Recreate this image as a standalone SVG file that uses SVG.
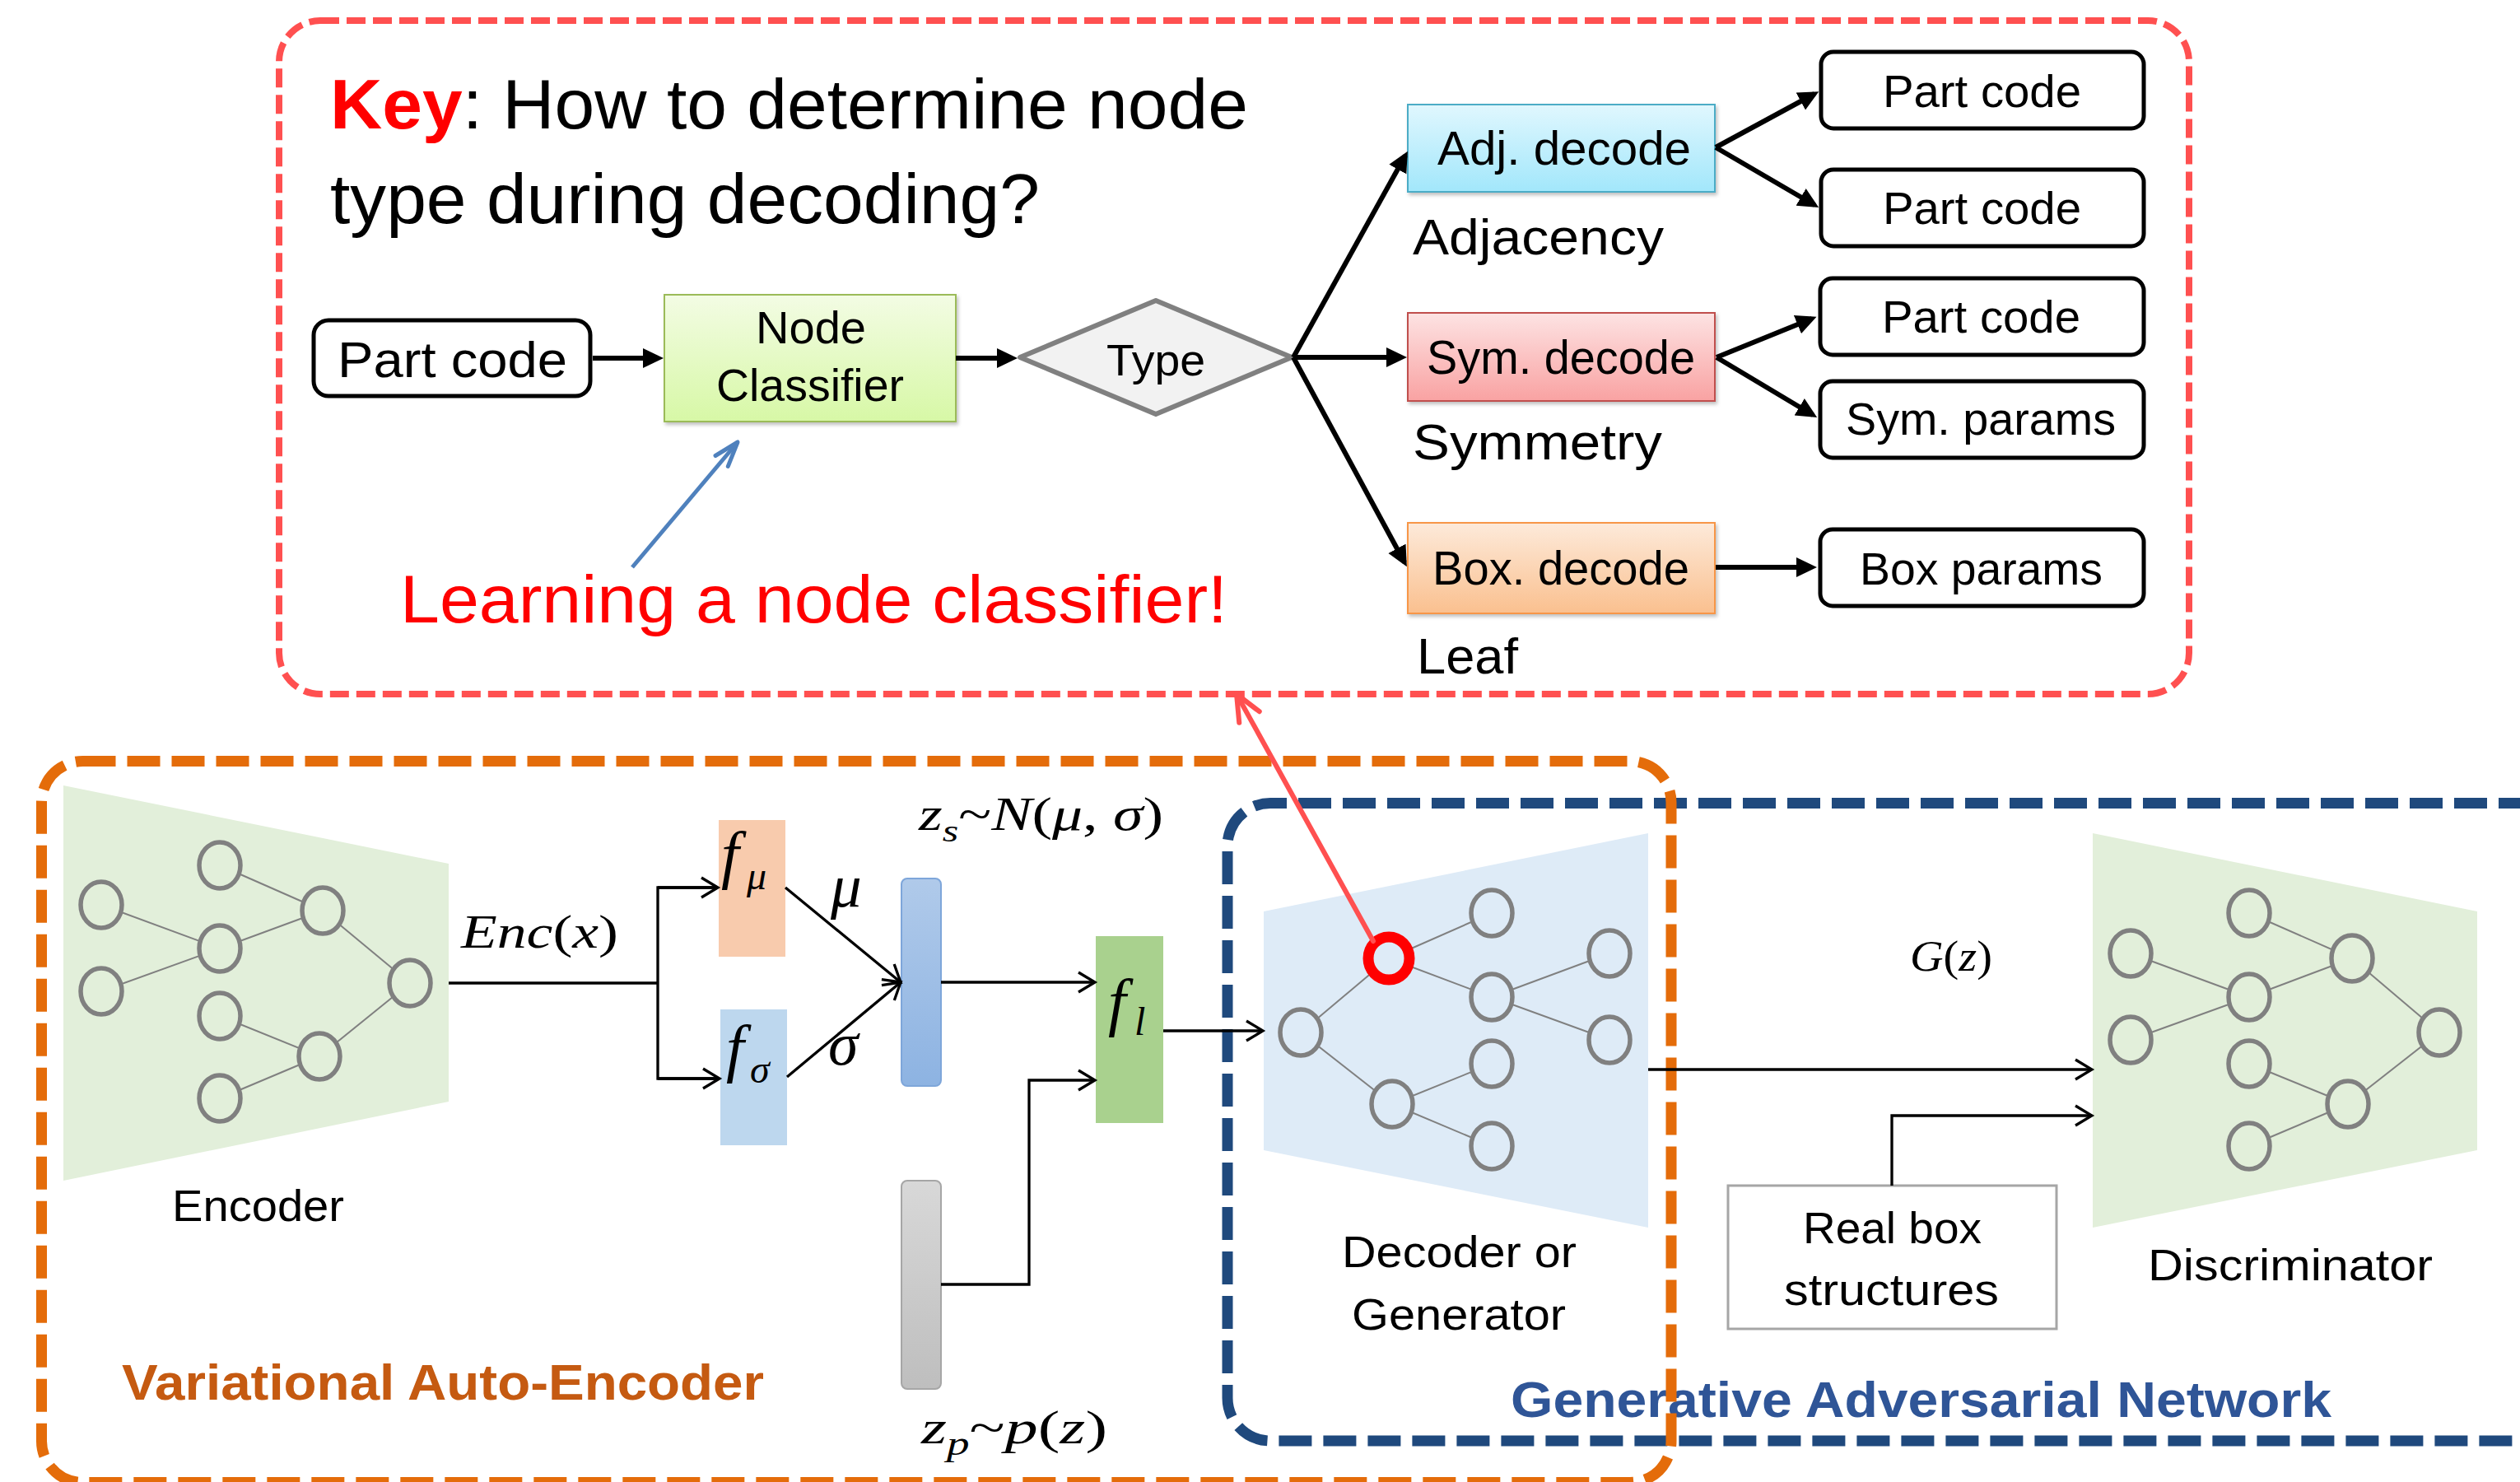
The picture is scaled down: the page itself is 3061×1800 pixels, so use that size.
<svg xmlns="http://www.w3.org/2000/svg" width="3061" height="1800" viewBox="0 0 3061 1800">
<defs>
<style>
.t{font-family:"Liberation Sans",Arial,sans-serif;fill:#000}
.m{font-family:"Liberation Serif","Times New Roman",serif;fill:#000}
.i{font-style:italic}
.rb{fill:#fff;stroke:#000;stroke-width:5}
.nc{fill:none;stroke:#808080;stroke-width:5.5}
.ed{stroke:#808080;stroke-width:2}
.thick{stroke:#000;stroke-width:6;fill:none}
.thin{stroke:#000;stroke-width:3.3;fill:none}
</style>
<linearGradient id="gNC" x1="0" y1="0" x2="0" y2="1"><stop offset="0" stop-color="#F3FCE4"/><stop offset="1" stop-color="#D7F8A6"/></linearGradient>
<linearGradient id="gAdj" x1="0" y1="0" x2="0" y2="1"><stop offset="0" stop-color="#E0F7FE"/><stop offset="1" stop-color="#A2E7FB"/></linearGradient>
<linearGradient id="gSym" x1="0" y1="0" x2="0" y2="1"><stop offset="0" stop-color="#FDE3E3"/><stop offset="1" stop-color="#F9A2A2"/></linearGradient>
<linearGradient id="gBox" x1="0" y1="0" x2="0" y2="1"><stop offset="0" stop-color="#FDEADA"/><stop offset="1" stop-color="#FAC08F"/></linearGradient>
<linearGradient id="gZs" x1="0" y1="0" x2="0" y2="1"><stop offset="0" stop-color="#B0CAEA"/><stop offset="1" stop-color="#8DB3E2"/></linearGradient>
<linearGradient id="gZp" x1="0" y1="0" x2="0" y2="1"><stop offset="0" stop-color="#D8D8D8"/><stop offset="1" stop-color="#BEBEBE"/></linearGradient>
<filter id="sh" x="-10%" y="-10%" width="130%" height="140%"><feDropShadow dx="2" dy="3" stdDeviation="2" flood-color="#000" flood-opacity="0.25"/></filter>
<marker id="ah" markerUnits="userSpaceOnUse" markerWidth="26" markerHeight="26" viewBox="0 0 26 26" refX="19" refY="13" orient="auto"><path d="M0,1 L25,13 L0,25 z" fill="#000"/></marker>
<marker id="av" markerUnits="userSpaceOnUse" markerWidth="30" markerHeight="30" viewBox="0 0 30 30" refX="24" refY="15" orient="auto"><path d="M4,3 L24,15 L4,27" fill="none" stroke="#000" stroke-width="3.3"/></marker>
<marker id="ar" markerUnits="userSpaceOnUse" markerWidth="44" markerHeight="40" viewBox="-40 -20 44 40" refX="0" refY="0" orient="auto"><path d="M-32,-14 L0,0 L-32,14" fill="none" stroke="#FF5050" stroke-width="6" stroke-linecap="round" stroke-linejoin="round"/></marker>
<marker id="ab" markerUnits="userSpaceOnUse" markerWidth="40" markerHeight="30" viewBox="-36 -15 40 30" refX="0" refY="0" orient="auto"><path d="M-30,-10 L0,0 L-30,10" fill="none" stroke="#4F81BD" stroke-width="5" stroke-linecap="round" stroke-linejoin="round"/></marker>
</defs>
<rect width="3061" height="1800" fill="#fff"/>

<!-- Top panel -->
<g id="key-panel">
<rect x="339" y="25" width="2320" height="818" rx="50" fill="none" stroke="#FF5050" stroke-width="8" stroke-dasharray="23 9"/>
<text class="t" x="401" y="156" font-size="86" textLength="1115" lengthAdjust="spacingAndGlyphs"><tspan fill="#FF0000" font-weight="bold">Key</tspan>: How to determine node</text>
<text class="t" x="401" y="271" font-size="86" textLength="862" lengthAdjust="spacingAndGlyphs">type during decoding?</text>
<text class="t" x="486" y="756" font-size="82" fill="#FF0000" style="fill:#FF0000" textLength="1005" lengthAdjust="spacingAndGlyphs">Learning a node classifier!</text>
</g>

<g id="part-code-in">
<rect class="rb" x="381" y="389" width="336" height="92" rx="18" stroke-width="5.5"/>
<text class="t" x="410" y="458" font-size="62" textLength="279" lengthAdjust="spacingAndGlyphs">Part code</text>
</g>
<g id="node-classifier">
<rect x="807" y="358" width="354" height="154" fill="url(#gNC)" stroke="#9BBB59" stroke-width="2" filter="url(#sh)"/>
<text class="t" x="918" y="417" font-size="56" textLength="134" lengthAdjust="spacingAndGlyphs">Node</text>
<text class="t" x="870" y="487" font-size="56" textLength="228" lengthAdjust="spacingAndGlyphs">Classifier</text>
</g>
<g id="type">
<polygon points="1239,434 1404,365 1569,434 1404,503" fill="#F2F2F2" stroke="#808080" stroke-width="6" stroke-linejoin="round"/>
<text class="t" x="1344" y="456" font-size="54" textLength="120" lengthAdjust="spacingAndGlyphs">Type</text>
</g>
<g id="adj-decode">
<rect x="1710" y="127" width="373" height="106" fill="url(#gAdj)" stroke="#4BACC6" stroke-width="2" filter="url(#sh)"/>
<text class="t" x="1746" y="200" font-size="57" textLength="308" lengthAdjust="spacingAndGlyphs">Adj. decode</text>
<text class="t" x="1716" y="309" font-size="62" textLength="305" lengthAdjust="spacingAndGlyphs">Adjacency</text>
</g>
<g id="sym-decode">
<rect x="1710" y="380" width="373" height="107" fill="url(#gSym)" stroke="#C0504D" stroke-width="2" filter="url(#sh)"/>
<text class="t" x="1733" y="454" font-size="57" textLength="326" lengthAdjust="spacingAndGlyphs">Sym. decode</text>
<text class="t" x="1716" y="558" font-size="62" textLength="303" lengthAdjust="spacingAndGlyphs">Symmetry</text>
</g>
<g id="box-decode">
<rect x="1710" y="635" width="373" height="110" fill="url(#gBox)" stroke="#F79646" stroke-width="2" filter="url(#sh)"/>
<text class="t" x="1740" y="710" font-size="57" textLength="312" lengthAdjust="spacingAndGlyphs">Box. decode</text>
<text class="t" x="1721" y="818" font-size="62" textLength="123" lengthAdjust="spacingAndGlyphs">Leaf</text>
</g>
<g id="part-code-1">
<rect class="rb" x="2212" y="63" width="392" height="93" rx="15"/>
<text class="t" x="2287" y="130" font-size="56" textLength="241" lengthAdjust="spacingAndGlyphs">Part code</text>
</g>
<g id="part-code-2">
<rect class="rb" x="2212" y="206" width="392" height="93" rx="15"/>
<text class="t" x="2287" y="272" font-size="56" textLength="241" lengthAdjust="spacingAndGlyphs">Part code</text>
</g>
<g id="part-code-3">
<rect class="rb" x="2211" y="338" width="393" height="93" rx="15"/>
<text class="t" x="2286" y="404" font-size="56" textLength="241" lengthAdjust="spacingAndGlyphs">Part code</text>
</g>
<g id="sym-params">
<rect class="rb" x="2211" y="463" width="393" height="93" rx="15"/>
<text class="t" x="2242" y="528" font-size="56" textLength="328" lengthAdjust="spacingAndGlyphs">Sym. params</text>
</g>
<g id="box-params">
<rect class="rb" x="2211" y="643" width="393" height="93" rx="15"/>
<text class="t" x="2259" y="710" font-size="56" textLength="295" lengthAdjust="spacingAndGlyphs">Box params</text>
</g>

<g id="top-connectors">
<line class="thick" x1="720" y1="435" x2="800" y2="435" marker-end="url(#ah)"/>
<line class="thick" x1="1161" y1="435" x2="1230" y2="435" marker-end="url(#ah)"/>
<line class="thick" x1="1571" y1="434" x2="1707" y2="189" marker-end="url(#ah)"/>
<line class="thick" x1="1571" y1="434" x2="1703" y2="434" marker-end="url(#ah)"/>
<line class="thick" x1="1571" y1="434" x2="1706" y2="683" marker-end="url(#ah)"/>
<line class="thick" x1="2084" y1="179" x2="2204" y2="114" marker-end="url(#ah)"/>
<line class="thick" x1="2084" y1="179" x2="2204" y2="249" marker-end="url(#ah)"/>
<line class="thick" x1="2085" y1="434" x2="2201" y2="387" marker-end="url(#ah)"/>
<line class="thick" x1="2085" y1="434" x2="2202" y2="504" marker-end="url(#ah)"/>
<line class="thick" x1="2084" y1="689" x2="2201" y2="689" marker-end="url(#ah)"/>
<line x1="768" y1="689" x2="896" y2="537" stroke="#4F81BD" stroke-width="5" marker-end="url(#ab)"/>
</g>

<!-- Bottom panels -->
<g id="gan">
<path d="M3075,975.5 H1543 A52,52 0 0 0 1491,1027.5 V1698 A52,52 0 0 0 1543,1750 H3075" fill="none" stroke="#1F497D" stroke-width="13" stroke-dasharray="40 14"/>
<text class="t" x="1835" y="1721" font-size="62" font-weight="bold" style="fill:#2F5597" textLength="997" lengthAdjust="spacingAndGlyphs">Generative Adversarial Network</text>
</g>
<g id="vae">
<rect x="50.5" y="924.5" width="1979.5" height="876" rx="50" fill="none" stroke="#E46C0A" stroke-width="13" stroke-dasharray="40 14"/>
<text class="t" x="148" y="1700" font-size="62" font-weight="bold" style="fill:#C55A11" textLength="780" lengthAdjust="spacingAndGlyphs">Variational Auto-Encoder</text>
</g>

<g id="encoder">
<polygon points="77,954 545,1049 545,1338 77,1434" fill="#E2EFDA"/>
<g class="ed">
<line x1="123" y1="1099" x2="267" y2="1152"/><line x1="123" y1="1204" x2="267" y2="1152"/>
<line x1="267" y1="1051" x2="392" y2="1106"/><line x1="267" y1="1152" x2="392" y2="1106"/>
<line x1="392" y1="1106" x2="498" y2="1194"/><line x1="267" y1="1234" x2="388" y2="1283"/>
<line x1="267" y1="1334" x2="388" y2="1283"/><line x1="388" y1="1283" x2="498" y2="1194"/>
</g>
<g class="nc" style="fill:#E2EFDA">
<ellipse cx="123" cy="1099" rx="25" ry="28"/><ellipse cx="123" cy="1204" rx="25" ry="28"/>
<ellipse cx="267" cy="1051" rx="25" ry="28"/><ellipse cx="267" cy="1152" rx="25" ry="28"/>
<ellipse cx="267" cy="1234" rx="25" ry="28"/><ellipse cx="267" cy="1334" rx="25" ry="28"/>
<ellipse cx="392" cy="1106" rx="25" ry="28"/><ellipse cx="388" cy="1283" rx="25" ry="28"/>
<ellipse cx="498" cy="1194" rx="25" ry="28"/>
</g>
<text class="t" x="209" y="1483" font-size="54" textLength="209" lengthAdjust="spacingAndGlyphs">Encoder</text>
</g>

<g id="f-mu">
<rect x="873" y="996" width="81" height="166" fill="#F8CBAD"/>
<text class="m i" x="876" y="1064" font-size="78">f</text>
<text class="m i" x="907" y="1080" font-size="48">μ</text>
</g>
<g id="f-sigma">
<rect x="875" y="1226" width="81" height="165" fill="#BDD7EE"/>
<text class="m i" x="882" y="1299" font-size="78">f</text>
<text class="m i" x="911" y="1315" font-size="48">σ</text>
</g>
<g id="z-s">
<rect x="1095" y="1067" width="48" height="252" rx="7" fill="url(#gZs)" stroke="#7EA6DA" stroke-width="2"/>
<text class="m" x="1116" y="1008" font-size="56" textLength="297" lengthAdjust="spacingAndGlyphs"><tspan class="i">z</tspan><tspan class="i" font-size="38" dy="14">s</tspan><tspan dy="-14">~</tspan><tspan class="i">N</tspan>(<tspan class="i">μ</tspan>, <tspan class="i">σ</tspan>)</text>
</g>
<g id="z-p">
<rect x="1095" y="1434" width="48" height="253" rx="7" fill="url(#gZp)" stroke="#A6A6A6" stroke-width="2"/>
<text class="m" x="1119" y="1753" font-size="58" textLength="226" lengthAdjust="spacingAndGlyphs"><tspan class="i">z</tspan><tspan class="i" font-size="40" dy="14">p</tspan><tspan dy="-14">~</tspan><tspan class="i">p</tspan>(<tspan class="i">z</tspan>)</text>
</g>
<g id="f-l">
<rect x="1331" y="1137" width="82" height="227" fill="#A9D18E"/>
<text class="m i" x="1346" y="1243" font-size="78">f</text>
<text class="m i" x="1378" y="1257" font-size="48">l</text>
</g>

<g id="decoder">
<polygon points="1535,1107 2002,1012 2002,1491 1535,1397" fill="#DEEBF7"/>
<g class="ed">
<line x1="1580" y1="1254" x2="1687" y2="1164"/><line x1="1687" y1="1164" x2="1812" y2="1109"/>
<line x1="1687" y1="1164" x2="1812" y2="1211"/><line x1="1812" y1="1211" x2="1955" y2="1158"/>
<line x1="1812" y1="1211" x2="1955" y2="1263"/><line x1="1580" y1="1254" x2="1691" y2="1341"/>
<line x1="1691" y1="1341" x2="1812" y2="1292"/><line x1="1691" y1="1341" x2="1812" y2="1392"/>
</g>
<g class="nc" style="fill:#DEEBF7">
<ellipse cx="1580" cy="1254" rx="25" ry="28"/><ellipse cx="1812" cy="1109" rx="25" ry="28"/>
<ellipse cx="1812" cy="1211" rx="25" ry="28"/><ellipse cx="1812" cy="1292" rx="25" ry="28"/>
<ellipse cx="1812" cy="1392" rx="25" ry="28"/><ellipse cx="1691" cy="1341" rx="25" ry="28"/>
<ellipse cx="1955" cy="1158" rx="25" ry="28"/><ellipse cx="1955" cy="1263" rx="25" ry="28"/>
</g>
<ellipse cx="1687" cy="1164" rx="25" ry="26" fill="#DEEBF7" stroke="#FF0000" stroke-width="13"/>
<text class="t" x="1630" y="1539" font-size="54" textLength="285" lengthAdjust="spacingAndGlyphs">Decoder or</text>
<text class="t" x="1642" y="1615" font-size="54" textLength="260" lengthAdjust="spacingAndGlyphs">Generator</text>
</g>

<g id="real-box">
<rect x="2099" y="1440" width="399" height="174" fill="#fff" stroke="#A6A6A6" stroke-width="3"/>
<text class="t" x="2190" y="1510" font-size="54" textLength="217" lengthAdjust="spacingAndGlyphs">Real box</text>
<text class="t" x="2167" y="1585" font-size="54" textLength="261" lengthAdjust="spacingAndGlyphs">structures</text>
</g>

<g id="discriminator">
<polygon points="2542,1012 3009,1107 3009,1397 2542,1491" fill="#E2EFDA"/>
<g class="ed">
<line x1="2588" y1="1158" x2="2732" y2="1211"/><line x1="2588" y1="1263" x2="2732" y2="1211"/>
<line x1="2732" y1="1109" x2="2857" y2="1164"/><line x1="2732" y1="1211" x2="2857" y2="1164"/>
<line x1="2857" y1="1164" x2="2963" y2="1254"/><line x1="2732" y1="1292" x2="2852" y2="1341"/>
<line x1="2732" y1="1392" x2="2852" y2="1341"/><line x1="2852" y1="1341" x2="2963" y2="1254"/>
</g>
<g class="nc" style="fill:#E2EFDA">
<ellipse cx="2588" cy="1158" rx="25" ry="28"/><ellipse cx="2588" cy="1263" rx="25" ry="28"/>
<ellipse cx="2732" cy="1109" rx="25" ry="28"/><ellipse cx="2732" cy="1211" rx="25" ry="28"/>
<ellipse cx="2732" cy="1292" rx="25" ry="28"/><ellipse cx="2732" cy="1392" rx="25" ry="28"/>
<ellipse cx="2857" cy="1164" rx="25" ry="28"/><ellipse cx="2852" cy="1341" rx="25" ry="28"/>
<ellipse cx="2963" cy="1254" rx="25" ry="28"/>
</g>
<text class="t" x="2609" y="1555" font-size="54" textLength="346" lengthAdjust="spacingAndGlyphs">Discriminator</text>
</g>

<g id="bottom-connectors">
<polyline class="thin" points="545,1194 799,1194"/>
<polyline class="thin" points="872,1078 799,1078 799,1310 874,1310"/>
<line class="thin" x1="799" y1="1078" x2="872" y2="1078" marker-end="url(#av)"/>
<line class="thin" x1="799" y1="1310" x2="874" y2="1310" marker-end="url(#av)"/>
<line class="thin" x1="954" y1="1078" x2="1094" y2="1193" marker-end="url(#av)"/>
<line class="thin" x1="956" y1="1308" x2="1094" y2="1193" marker-end="url(#av)"/>
<line class="thin" x1="1143" y1="1193" x2="1330" y2="1193" marker-end="url(#av)"/>
<polyline class="thin" points="1143,1560 1250,1560 1250,1312 1330,1312" marker-end="url(#av)"/>
<line class="thin" x1="1413" y1="1252" x2="1534" y2="1252" marker-end="url(#av)"/>
<line class="thin" x1="2002" y1="1299" x2="2541" y2="1299" marker-end="url(#av)"/>
<polyline class="thin" points="2298,1440 2298,1355 2541,1355" marker-end="url(#av)"/>
<text class="m" x="560" y="1151" font-size="58" textLength="191" lengthAdjust="spacingAndGlyphs"><tspan class="i">Enc</tspan>(<tspan class="i">x</tspan>)</text>
<text class="m i" x="1009" y="1101" font-size="75">μ</text>
<text class="m i" x="1006" y="1293" font-size="74">σ</text>
<text class="m" x="2320" y="1179" font-size="52" textLength="100" lengthAdjust="spacingAndGlyphs"><tspan class="i">G</tspan>(<tspan class="i">z</tspan>)</text>
</g>

<g id="highlight-connector">
<line x1="1668" y1="1143" x2="1502" y2="843" stroke="#FF5050" stroke-width="6" stroke-linecap="round" marker-end="url(#ar)"/>
</g>
</svg>
